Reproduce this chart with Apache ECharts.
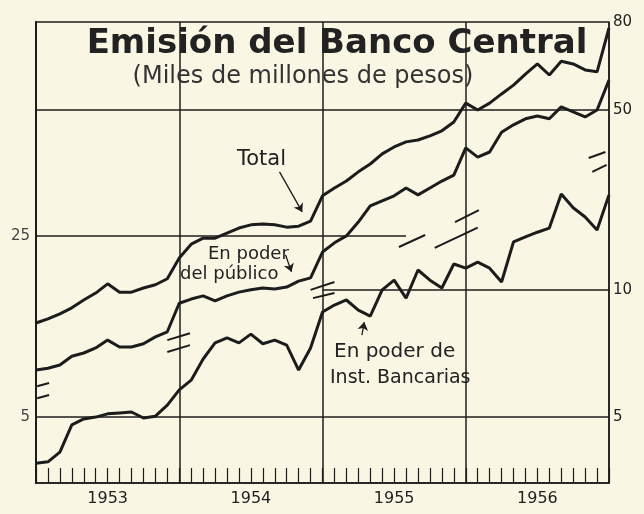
<!DOCTYPE html>
<html><head><meta charset="utf-8">
<script src="https://cdn.jsdelivr.net/npm/echarts@6/dist/echarts.min.js"></script>
<style>html,body{margin:0;padding:0;background:#f9f7e4}#c{width:644px;height:514px}</style>
</head><body><div id="c"></div>
<script>
// month index 0 = start of 1953, 48 = end of 1956
const months = [0,1,2,3,4,5,6,7,8,9,10,11,12,13,14,15,16,17,18,19,20,21,22,23,24,25,26,27,28,29,30,31,32,33,34,35,36,37,38,39,40,41,42,43,44,45,46,47,48];
// levels on the chart's (broken) scale, 0 = bottom, 100 = top
const total = [34.7,35.6,36.7,38.0,39.7,41.2,43.2,41.4,41.4,42.3,43.0,44.3,48.8,51.8,53.1,53.1,54.2,55.3,56.0,56.2,56.0,55.5,55.7,56.8,62.3,64.0,65.5,67.5,69.2,71.4,72.9,74.0,74.4,75.3,76.4,78.3,82.4,80.9,82.4,84.4,86.3,88.7,90.9,88.5,91.5,90.9,89.6,89.2,98.7];
const publico = [24.5,24.9,25.6,27.5,28.2,29.3,31.0,29.5,29.5,30.2,31.7,32.8,39.0,39.9,40.6,39.5,40.6,41.4,41.9,42.3,42.1,42.5,43.8,44.5,50.1,52.1,53.6,56.6,60.1,61.2,62.3,64.0,62.5,64.0,65.5,66.8,72.7,70.7,71.8,76.1,77.7,79.0,79.6,79.0,81.6,80.5,79.4,80.9,87.4];
const bancos = [4.3,4.6,6.7,12.6,13.9,14.3,15.0,15.2,15.4,14.1,14.5,16.9,20.2,22.3,26.9,30.4,31.5,30.4,32.3,30.2,31.0,29.9,24.5,29.3,37.1,38.6,39.7,37.5,36.2,41.9,44.0,40.1,46.2,44.0,42.3,47.5,46.6,47.9,46.6,43.6,52.3,53.4,54.4,55.3,62.7,59.7,57.7,54.9,62.5];

const yearLabels = ['1953','1954','1955','1956'];
const yearLabelPos = [6,18,30,42];
const leftTickLabels = ['5','25'];
const leftTickPos = [14.3,53.6];
const rightTickLabels = ['5','10','50','80'];
const rightTickPos = [14.3,41.9,80.9,100];

// horizontal rules: [level, fromMonth, toMonth]
const rules = [[14.3,0,48],[53.6,0,31],[41.9,24,48],[80.9,0,48]];
// scale-break marks: [[m1,l1],[m2,l2]]
const breaks = [
  [[0.1,21.0],[1.1,21.7]],[[0.1,18.4],[1.1,19.1]],
  [[11.0,31.0],[12.9,32.5]],[[11.0,28.4],[12.9,29.9]],
  [[23.0,41.9],[25.0,43.6]],[[23.2,40.1],[25.0,41.2]],
  [[30.4,51.2],[32.6,53.8]],[[33.4,51.0],[37.0,55.4]],[[35.1,56.6],[37.1,59.2]],
  [[46.3,70.5],[47.7,71.8]],[[46.6,67.5],[47.8,69.0]]
];
// annotation arrows
const arrows = [
  [[20.4,67.5],[22.3,58.8]],
  [[20.9,49.5],[21.4,45.8]],
  [[27.3,32.1],[27.5,34.9]]
];

const ink = '#1c1c1c';
const chart = echarts.init(document.getElementById('c'));
const pairs = arr => months.map((m,i)=>[m,arr[i]]);
const lineSeries = (name, arr) => ({
  name, type:'line', data:pairs(arr), showSymbol:false, smooth:false,
  lineStyle:{color:ink,width:3}, z:3, silent:true
});

const markData = [];
rules.forEach(r => markData.push([{coord:[r[1],r[0]],lineStyle:{color:ink,width:1.5,type:'solid'}},{coord:[r[2],r[0]]}]));
breaks.forEach(b => markData.push([{coord:b[0],lineStyle:{color:ink,width:2,type:'solid'}},{coord:b[1]}]));
const arrowData = arrows.map(a => [{coord:a[0],symbol:'none',lineStyle:{color:ink,width:1.3,type:'solid'}},{coord:a[1],symbol:'arrow'}]);

const fam = '"DejaVu Sans", sans-serif';
chart.setOption({
  backgroundColor:'#f9f7e4',
  animation:false,
  grid:{left:36,right:35,top:22,bottom:31,show:true,borderColor:ink,borderWidth:1.5},
  xAxis:[
    {type:'value',min:0,max:48,interval:12,
     axisLine:{show:true,lineStyle:{color:ink,width:1.5}},
     axisTick:{show:false},axisLabel:{show:false},
     splitLine:{show:true,lineStyle:{color:ink,width:1.5}}},
    {type:'value',min:0,max:48,interval:1,position:'bottom',
     axisLine:{show:false},
     axisTick:{show:true,inside:true,length:15,lineStyle:{color:ink,width:1.2}},
     axisLabel:{customValues:yearLabelPos,formatter:v=>yearLabels[yearLabelPos.indexOf(v)]||'',
       color:'#222',fontSize:16,fontFamily:fam,margin:8},
     splitLine:{show:false}}
  ],
  yAxis:[
    {type:'value',min:0,max:100,position:'left',
     axisLine:{show:true,lineStyle:{color:ink,width:1.5}},axisTick:{show:false},
     splitLine:{show:false},
     axisLabel:{customValues:leftTickPos,formatter:v=>leftTickLabels[leftTickPos.indexOf(v)]||'',
       color:'#444',fontSize:15,fontFamily:fam,margin:6}},
    {type:'value',min:0,max:100,position:'right',
     axisLine:{show:true,lineStyle:{color:ink,width:1.5}},axisTick:{show:false},
     splitLine:{show:false},
     axisLabel:{customValues:rightTickPos,formatter:v=>rightTickLabels[rightTickPos.indexOf(v)]||'',
       color:'#222',fontSize:15,fontFamily:fam,margin:4}}
  ],
  series:[
    lineSeries('Total',total),
    lineSeries('En poder del público',publico),
    lineSeries('En poder de Inst. Bancarias',bancos),
    {type:'line',data:[],silent:true,
     markLine:{silent:true,symbol:'none',label:{show:false},animation:false,lineStyle:{type:'solid'},data:markData}},
    {type:'line',data:[],silent:true,
     markLine:{silent:true,symbolSize:8,label:{show:false},animation:false,lineStyle:{type:'solid'},data:arrowData}}
  ],
  graphic:[
    {type:'text',x:337,y:44,z:10,style:{text:'Emisión del Banco Central',font:'bold 34px '+fam,fill:'#222',align:'center',verticalAlign:'middle'}},
    {type:'text',x:303,y:77,z:10,style:{text:'(Miles de millones de pesos)',font:'24px '+fam,fill:'#333',align:'center',verticalAlign:'middle'}},
    {type:'text',x:237,y:160,z:10,style:{text:'Total',font:'21px '+fam,fill:'#222',align:'left',verticalAlign:'middle'}},
    {type:'text',x:208,y:254,z:10,style:{text:'En poder',font:'18px '+fam,fill:'#222',align:'left',verticalAlign:'middle'}},
    {type:'text',x:180,y:274,z:10,style:{text:'del público',font:'18px '+fam,fill:'#222',align:'left',verticalAlign:'middle'}},
    {type:'text',x:334,y:352,z:10,style:{text:'En poder de',font:'20px '+fam,fill:'#222',align:'left',verticalAlign:'middle'}},
    {type:'text',x:330,y:378,z:10,style:{text:'Inst. Bancarias',font:'19px '+fam,fill:'#222',align:'left',verticalAlign:'middle'}}
  ]
});
</script></body></html>
